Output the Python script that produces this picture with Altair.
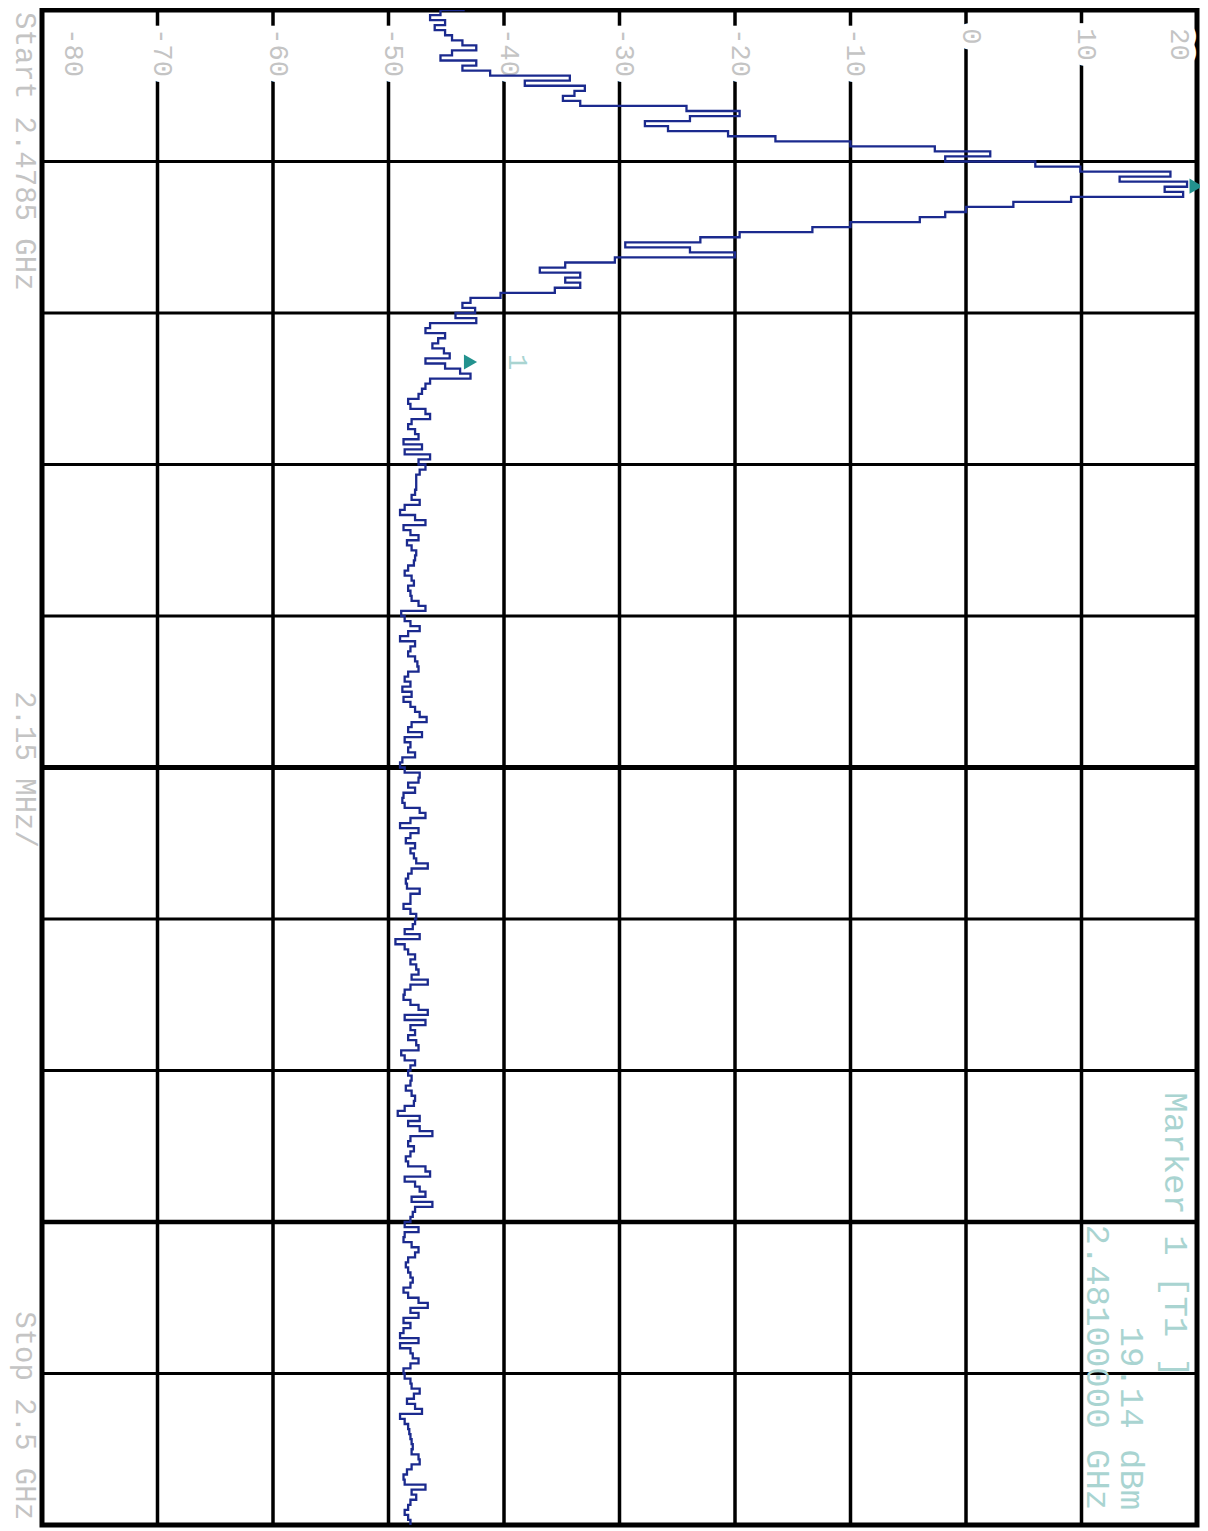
import altair as alt
import pandas as pd

# ---- sweep settings (MHz) ----
START_MHZ = 2478.5
STOP_MHZ = 2500.0
DIV_MHZ = 2.15

# ---- trace levels (dBm), read along the sweep, top to bottom ----
level_peak = [
    -43.4, -45.5, -46.4, -45.1, -46.0, -45.1, -44.5, -43.6, -42.4, -44.5,
    -45.5, -42.4, -43.6, -41.2, -34.3, -38.2, -33.0, -33.9, -34.9, -33.4,
    -24.2, -19.6, -23.9, -27.8, -25.8, -20.6, -16.5, -10.0, -2.7, 2.1,
    -1.8, 6.0, 9.9, 17.7, 13.3, 19.14, 17.2, 18.8, 9.1, 4.1,
    0.0, -1.8, -4.0, -10.0, -13.3, -19.6, -23.0, -29.5, -23.9, -20.0,
    -30.4, -34.7, -36.9, -33.4, -34.7, -33.4, -35.6, -40.3, -42.9, -43.6,
    -42.5, -44.2, -42.4, -46.4, -46.8, -45.1, -45.7, -46.2, -45.2, -44.7,
    -46.8, -45.1, -43.8, -42.9, -46.4, -46.8, -47.1, -47.4, -48.3, -48.1,
]
level_floor_a = [
    -46.8, -46.4, -48.0, -48.3, -47.7, -47.4, -48.7, -47.1, -48.6, -46.4,
    -47.4, -46.8, -47.3, -47.6, -47.6, -47.6, -47.7, -48.0, -47.3, -48.6,
    -49.0, -47.7, -46.8, -48.7, -48.1, -47.4, -48.4, -48.0, -47.6, -47.7,
    -47.8, -48.3, -48.6, -48.0, -47.8, -48.3, -48.1, -48.0, -47.4, -46.8,
    -48.9, -48.6, -48.1, -47.3, -48.3, -49.0, -47.7, -48.1, -48.3, -47.7,
    -47.5, -47.4, -48.3, -48.6, -48.1, -48.8, -48.0, -48.7, -48.1, -47.7,
    -47.3, -46.7, -48.0, -48.3, -47.1, -48.6, -48.1, -48.3, -47.7, -48.8,
]
level_floor_b = [
    -49.0, -48.6, -47.3, -47.4, -48.3, -47.7, -48.7, -48.8, -48.6, -47.3,
    -46.8, -48.1, -49.0, -47.4, -48.1, -48.5, -47.7, -48.1, -47.8, -47.6,
    -46.6, -48.0, -48.3, -48.5, -48.4, -47.3, -48.1, -48.1, -48.7, -48.1,
    -47.6, -47.7, -47.9, -48.6, -47.3, -49.4, -48.6, -48.3, -47.7, -48.1,
    -47.6, -47.4, -48.0, -46.6, -48.1, -48.6, -48.7, -48.1, -47.4, -46.6,
    -48.6, -46.8, -48.1, -47.7, -48.3, -47.6, -47.4, -48.9, -48.6, -47.7,
    -48.1, -48.3, -48.0, -48.1, -48.5, -48.0, -47.7, -47.8, -48.6, -49.2,
    -47.3, -48.3, -47.3, -46.2, -48.1, -48.3, -47.8, -48.1, -48.5, -48.3,
]
level_floor_c = [
    -46.8, -46.4, -48.6, -47.7, -47.3, -46.8, -48.0, -46.2, -47.7, -47.9,
    -48.1, -48.6, -47.4, -48.6, -48.7, -48.0, -47.4, -47.7, -48.3, -48.5,
    -48.3, -48.1, -47.9, -48.1, -48.7, -48.3, -47.4, -46.6, -48.1, -47.4,
    -48.7, -48.1, -48.7, -49.0, -47.4, -49.0, -48.1, -47.9, -47.4, -48.1,
    -48.7, -48.6, -48.1, -48.0, -47.3, -47.8, -48.4, -47.7, -47.1, -49.0,
    -48.6, -48.3, -48.2, -48.1, -48.0, -47.9, -48.0, -47.4, -47.3, -48.0,
    -48.4, -48.7, -48.6, -46.8, -48.0, -47.6, -48.1, -48.3, -48.6, -48.3,
    -48.1,
]
levels = level_peak + level_floor_a + level_floor_b + level_floor_c
step = (STOP_MHZ - START_MHZ) / (len(levels) - 1)
freqs = [START_MHZ + i * step for i in range(len(levels))]

# ---- graticule ----
v_grid = [-70, -60, -50, -40, -30, -20, -10, 0, 10]
h_grid = [2480.65, 2482.80, 2484.95, 2487.10, 2491.40, 2493.55, 2497.85]
h_center = [2489.25]
h_heavy = [2495.70]

# ---- level labels ----
tick_text = ["-80", "-70", "-60", "-50", "-40", "-30", "-20", "-10", "0", "10", "20"]
tick_pos = [-77.3, -69.6, -59.6, -49.6, -39.6, -29.6, -19.6, -9.6, 0.4, 10.4, 18.4]
tick_freq = 2478.76

# ---- markers ----
peak_freq = [2481.0]
peak_level = [19.14]
m2_freq = [2483.495]
m2_level = [-42.9]

# ---- annotation texts ----
info_text = ["Start 2.4785 GHz", "2.15 MHz/", "Stop 2.5 GHz"]
info_freq = [2478.53, 2489.28, 2499.93]
info_align = ["left", "center", "right"]
info_level = -81.5

marker_text = ["Marker 1 [T1 ]", "19.14 dBm", "2.48100000 GHz"]
marker_freq = [2493.86, 2499.79, 2499.79]
marker_lvl = [18.1, 14.3, 11.35]

MONO = "Liberation Mono"
GRAY = "#c4c4c4"
TEAL_TXT = "#a9d4d1"
TEAL = "#23928e"

xs = alt.Scale(domain=[-80, 20], nice=False, zero=False)
ys = alt.Scale(domain=[START_MHZ, STOP_MHZ], reverse=True, nice=False, zero=False)


def X(field="level"):
    return alt.X(f"{field}:Q", scale=xs, axis=None)


def Y(field="freq"):
    return alt.Y(f"{field}:Q", scale=ys, axis=None)


trace_df = pd.DataFrame({"idx": list(range(len(levels))), "freq": freqs, "level": levels})

vgrid = alt.Chart(pd.DataFrame({"level": v_grid})).mark_rule(
    color="black", strokeWidth=3.5).encode(x=X())
hgrid = alt.Chart(pd.DataFrame({"freq": h_grid})).mark_rule(
    color="black", strokeWidth=2.8).encode(y=Y())
hcenter = alt.Chart(pd.DataFrame({"freq": h_center})).mark_rule(
    color="black", strokeWidth=5).encode(y=Y())
hheavy = alt.Chart(pd.DataFrame({"freq": h_heavy})).mark_rule(
    color="black", strokeWidth=4.3).encode(y=Y())

tick_df = pd.DataFrame({"t": tick_text, "level": tick_pos, "freq": [tick_freq] * len(tick_text)})
tick_halo = alt.Chart(tick_df).mark_text(
    angle=90, align="left", baseline="middle", font=MONO, fontSize=27,
    color="white", stroke="white", strokeWidth=14, strokeJoin="miter"
).encode(x=X(), y=Y(), text="t:N")
tick_lbl = alt.Chart(tick_df).mark_text(
    angle=90, align="left", baseline="middle", font=MONO, fontSize=27, color=GRAY
).encode(x=X(), y=Y(), text="t:N")

trace = alt.Chart(trace_df).mark_line(
    color="#1b2a8e", strokeWidth=2.3, interpolate="step-after", clip=True
).encode(x=X(), y=Y(), order="idx:Q")

peak = alt.Chart(pd.DataFrame({"freq": peak_freq, "level": peak_level})).mark_point(
    shape="triangle-right", filled=True, size=230, color=TEAL, opacity=1
).encode(x=X(), y=Y(), xOffset=alt.value(9))
m2 = alt.Chart(pd.DataFrame({"freq": m2_freq, "level": m2_level})).mark_point(
    shape="triangle-right", filled=True, size=230, color=TEAL, opacity=1
).encode(x=X(), y=Y())
m2_lbl = alt.Chart(pd.DataFrame({"freq": m2_freq, "level": [-38.9], "t": ["1"]})).mark_text(
    angle=90, align="center", baseline="middle", font=MONO, fontSize=27, color=TEAL_TXT
).encode(x=X(), y=Y(), text="t:N")

info_layers = []
for t, f, a in zip(info_text, info_freq, info_align):
    info_layers.append(
        alt.Chart(pd.DataFrame({"t": [t], "freq": [f], "level": [info_level]})).mark_text(
            angle=90, align=a, baseline="middle", font=MONO, fontSize=29, color=GRAY
        ).encode(x=X(), y=Y(), text="t:N")
    )

mk_layers = []
for t, f, lv, a in zip(marker_text, marker_freq, marker_lvl, ["left", "right", "right"]):
    mk_layers.append(
        alt.Chart(pd.DataFrame({"t": [t], "freq": [f], "level": [lv]})).mark_text(
            angle=90, align=a, baseline="middle", font=MONO, fontSize=34, color=TEAL_TXT
        ).encode(x=X(), y=Y(), text="t:N")
    )

chart = alt.layer(
    vgrid, hgrid, hcenter, hheavy, tick_halo, tick_lbl, trace, peak, m2, m2_lbl,
    *info_layers, *mk_layers
).properties(
    width=1155, height=1515,
    autosize=alt.AutoSizeParams(type="none"),
    padding={"left": 34, "top": 2, "right": 3, "bottom": 4},
    background="white",
).configure_view(stroke="black", strokeWidth=5)

chart.save("out.html", embed_options={"renderer": "svg", "actions": False})
